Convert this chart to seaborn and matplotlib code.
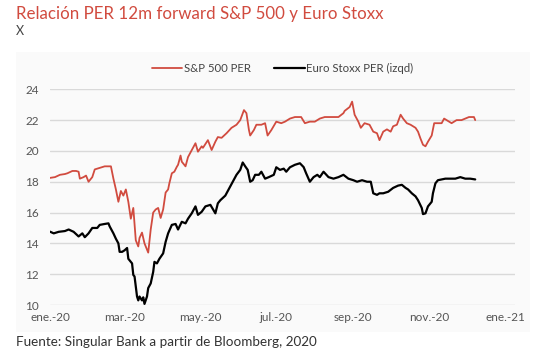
import matplotlib.pyplot as plt
from matplotlib.patches import Rectangle
import seaborn as sns
import pandas as pd

# Data (days since 1 Jan 2020, PER 12m forward)
sp_days = [0, 4, 8, 12, 14, 18, 21, 23, 24, 27, 29, 31, 34, 36, 40, 44, 49, 51, 53, 55,
           57, 59, 61, 63, 65, 67, 69, 71, 72, 74, 76, 79, 81, 83, 85, 87, 89, 91, 93, 95,
           96, 98, 100, 102, 103, 105, 106, 109, 111, 114, 117, 119, 122, 123, 127, 130, 133, 135, 138, 142,
           146, 150, 153, 156, 158, 160, 161, 164, 166, 170, 173, 175, 178, 182, 186, 189, 193, 197, 202, 205,
           209, 213, 217, 221, 227, 232, 236, 237, 241, 243, 245, 248, 250, 253, 257, 260, 263, 265, 268, 271,
           274, 276, 279, 282, 284, 287, 290, 294, 296, 298, 300, 302, 304, 307, 309, 312, 315, 317, 320, 323,
           327, 331, 334, 337, 341, 342]
sp_per = [18.25, 18.3, 18.45, 18.5, 18.55, 18.7, 18.7, 18.65, 18.2, 18.3, 18.4, 18.0, 18.3, 18.8, 18.9, 19.0, 19.0, 18.2, 17.5, 16.7,
          17.4, 17.1, 17.5, 16.7, 15.6, 16.3, 14.2, 13.8, 14.35, 14.7, 14.0, 13.4, 14.9, 16.0, 16.2, 16.3, 15.65, 16.2, 17.3, 17.5,
          17.9, 18.55, 18.65, 18.97, 19.1, 19.7, 19.3, 19.0, 19.6, 20.05, 20.5, 19.95, 20.3, 20.2, 20.7, 20.06, 20.6, 20.9, 20.85, 21.15,
          21.5, 21.7, 22.0, 22.65, 22.45, 21.36, 21.0, 21.36, 21.7, 21.7, 21.8, 21.0, 21.35, 21.9, 21.8, 21.9, 22.1, 22.2, 22.2, 21.8,
          21.9, 21.9, 22.1, 22.2, 22.2, 22.2, 22.45, 22.6, 22.85, 23.2, 22.35, 21.9, 21.5, 21.8, 21.7, 21.25, 21.15, 20.7, 21.25, 21.4,
          21.25, 21.6, 21.7, 22.35, 22.1, 21.8, 21.7, 21.5, 21.25, 20.8, 20.4, 20.3, 20.6, 21.0, 21.8, 21.8, 21.8, 22.1, 21.95, 21.8,
          22.0, 22.0, 22.1, 22.2, 22.2, 22.0]

eu_days = [0, 3, 7, 12, 15, 19, 23, 26, 28, 31, 34, 38, 40, 44, 47, 48, 51, 53, 55, 56,
           58, 60, 62, 63, 66, 67, 68, 70, 71, 72, 74, 75, 76, 78, 79, 81, 83, 84, 86, 88,
           91, 93, 95, 98, 101, 103, 106, 109, 111, 114, 117, 119, 122, 125, 129, 133, 135, 137, 141, 145,
           147, 150, 153, 155, 157, 159, 161, 163, 165, 168, 170, 173, 176, 180, 182, 185, 188, 190, 193, 197,
           201, 204, 206, 209, 212, 215, 217, 220, 224, 228, 232, 236, 240, 244, 247, 251, 255, 258, 260, 263,
           265, 268, 272, 276, 280, 283, 286, 288, 291, 294, 296, 299, 300, 302, 304, 307, 308, 310, 312, 315,
           318, 322, 326, 330, 334, 338, 342]
eu_per = [14.76, 14.65, 14.75, 14.8, 14.9, 14.75, 14.45, 14.65, 14.4, 14.65, 15.0, 15.0, 15.2, 15.26, 15.3, 15.1, 14.65, 14.3, 14.0, 13.45,
          13.45, 13.55, 13.7, 13.0, 12.7, 11.95, 11.85, 10.55, 10.3, 10.55, 10.3, 10.5, 10.07, 10.55, 11.1, 11.4, 12.15, 12.8, 12.7, 13.0,
          13.35, 14.1, 14.65, 15.2, 15.26, 14.9, 15.4, 15.3, 15.6, 15.95, 16.4, 15.85, 16.05, 16.4, 16.5, 15.95, 16.6, 16.8, 17.1, 17.7,
          18.0, 18.45, 18.77, 19.25, 19.0, 18.77, 18.0, 18.1, 18.45, 18.45, 18.65, 18.2, 18.3, 18.45, 18.94, 18.77, 18.85, 18.65, 18.94, 19.1,
          19.2, 18.95, 18.55, 18.0, 18.3, 18.45, 18.3, 18.65, 18.3, 18.2, 18.3, 18.45, 18.2, 18.1, 18.0, 18.1, 18.0, 18.0, 17.25, 17.15,
          17.25, 17.25, 17.35, 17.6, 17.75, 17.8, 17.6, 17.5, 17.25, 17.05, 16.8, 16.3, 15.9, 15.95, 16.4, 16.7, 17.25, 17.9, 18.1, 18.15,
          18.2, 18.2, 18.2, 18.3, 18.2, 18.2, 18.15]

x_ticks = ["2020-01-01", "2020-03-01", "2020-05-01", "2020-07-01", "2020-09-01", "2020-11-01", "2021-01-01"]
x_labels = ["ene.-20", "mar.-20", "may.-20", "jul.-20", "sep.-20", "nov.-20", "ene.-21"]
y_ticks = [10, 12, 14, 16, 18, 20, 22, 24]

start = pd.Timestamp("2020-01-01")
sp = pd.DataFrame({"fecha": start + pd.to_timedelta(sp_days, unit="D"), "per": sp_per})
eu = pd.DataFrame({"fecha": start + pd.to_timedelta(eu_days, unit="D"), "per": eu_per})

RED = "#d14b3f"
GREY_TXT = "#555555"

sns.set_style("white")
plt.rcParams["font.family"] = ["Lato", "DejaVu Sans"]

fig = plt.figure(figsize=(5.4, 3.55), dpi=100)
# light panel behind the chart
fig.patches.append(Rectangle((16 / 540, 1 - 332 / 355), (530 - 16) / 540, (332 - 52) / 355,
                             transform=fig.transFigure, facecolor="#fafafa", edgecolor="none", zorder=-10))

ax = fig.add_axes([50 / 540, 1 - 305 / 355, (515 - 50) / 540, (305 - 89.3) / 355])
ax.set_zorder(5)
ax.set_facecolor("none")

sns.lineplot(data=sp, x="fecha", y="per", color=RED, linewidth=1.3, label="S&P 500 PER", ax=ax)
sns.lineplot(data=eu, x="fecha", y="per", color="black", linewidth=1.6, label="Euro Stoxx PER (izqd)", ax=ax)

ax.set_ylim(10, 24)
ax.set_xlim(pd.Timestamp("2020-01-01"), pd.Timestamp("2021-01-09"))
ax.set_yticks(y_ticks)
ax.set_xticks(pd.to_datetime(x_ticks))
ax.set_xticklabels(x_labels)
ax.grid(axis="y", color="#d9d9d9", linewidth=1)
ax.set_axisbelow(True)
for s in ax.spines.values():
    s.set_visible(False)
ax.tick_params(axis="both", length=0, labelsize=8.5, labelcolor=GREY_TXT)
ax.tick_params(axis="y", pad=8)
ax.tick_params(axis="x", pad=5)
ax.set_xlabel("")
ax.set_ylabel("")

leg = ax.legend(loc="center", bbox_to_anchor=(0.5, 1 + (89.3 - 68) / (305 - 89.3)), ncol=2,
                frameon=False, fontsize=8.2, handlelength=2.7, handletextpad=0.15, columnspacing=2.0)
for t in leg.get_texts():
    t.set_color("#444444")

fig.text(16 / 540, 1 - 14 / 355, "Relación PER 12m forward S&P 500 y Euro Stoxx", color=RED,
         fontsize=12.2, va="center", ha="left")
fig.text(16 / 540, 1 - 31 / 355, "X", color="#444444", fontsize=9, va="center", ha="left")
fig.text(16 / 540, 1 - 342 / 355, "Fuente: Singular Bank a partir de Bloomberg, 2020", color="#333333",
         fontsize=9.7, va="center", ha="left")

fig.savefig("out.png", dpi=100)
